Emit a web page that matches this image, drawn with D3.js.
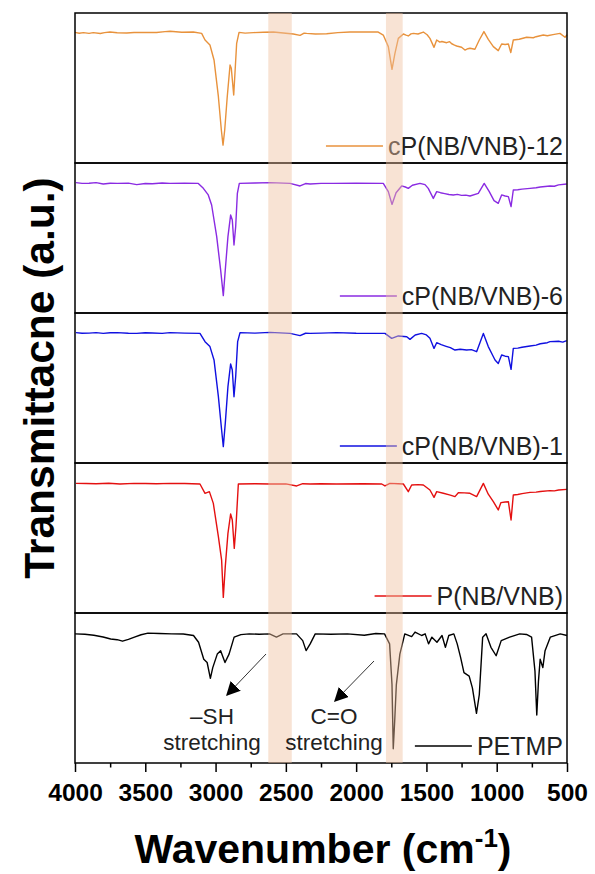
<!DOCTYPE html>
<html>
<head>
<meta charset="utf-8">
<script src="https://cdn.jsdelivr.net/npm/d3@7"></script>
<style>
body { margin: 0; background: #fff; }
svg { display: block; font-family: "Liberation Sans", Arial, sans-serif; }
</style>
</head>
<body>
<svg></svg>
<script>
// spectra, [wavenumber, transmittance]
let cp12 = [[4000,87.1],[3970,86.5],[3940,86.9],[3900,86.4],[3870,86.9],[3820,86.3],[3790,86.9],[3751,87.3],[3700,86.8],
  [3632,86.7],[3580,87.0],[3514,87.1],[3420,87.0],[3360,87.6],[3324,87.8],[3240,87.2],[3158,87.3],[3099,86.4],
  [3075,82.0],[3040,78.7],[3011,68.7],[2980,44.2],[2959,22.0],[2947,11.9],[2935,22.0],[2917,44.2],[2897,65.3],
  [2888,63.1],[2871,45.3],[2862,60.0],[2850,79.8],[2833,87.1],[2790,86.6],[2731,86.9],[2660,87.2],[2589,87.3],
  [2447,86.0],[2399,85.1],[2370,86.6],[2352,86.4],[2290,86.0],[2210,86.2],[2130,86.9],[2044,87.3],[1843,87.3],
  [1807,85.3],[1771,77.6],[1745,62.4],[1724,73.1],[1700,83.1],[1664,86.0],[1645,85.2],[1629,84.7],[1610,86.1],
  [1593,86.4],[1560,86.0],[1522,87.3],[1495,85.5],[1475,83.1],[1446,77.1],[1427,82.0],[1405,80.6],[1390,81.0],
  [1356,80.2],[1335,80.9],[1320,79.5],[1300,78.6],[1285,78.0],[1250,77.2],[1226,75.3],[1205,76.2],[1190,76.5],
  [1155,75.8],[1124,82.0],[1091,87.6],[1060,82.4],[1024,77.6],[989,74.9],[965,79.3],[940,79.0],[917,79.3],
  [900,73.6],[882,82.0],[840,82.5],[787,83.8],[740,83.5],[720,84.2],[669,85.3],[640,84.8],[600,85.6],[550,86.4],
  [514,83.8],[500,85.6]]

let cp6 = [[3993,86.9],[3950,86.4],[3900,86.5],[3850,86.9],[3799,86.0],[3750,86.5],[3700,86.4],[3620,86.6],
  [3561,85.6],[3500,86.3],[3450,86.2],[3380,86.7],[3324,86.4],[3220,86.5],[3123,86.4],[3087,83.1],[3052,78.7],
  [3028,72.0],[2992,50.9],[2964,28.7],[2945,11.6],[2931,28.7],[2912,50.9],[2893,65.3],[2881,62.0],[2869,45.3],
  [2857,57.5],[2845,79.8],[2831,86.4],[2720,86.7],[2613,86.9],[2470,86.4],[2399,84.7],[2360,86.3],[2328,86.0],
  [2250,86.4],[2162,86.4],[2000,86.6],[1807,86.4],[1771,80.9],[1745,72.4],[1716,80.2],[1676,84.7],[1650,84.0],
  [1629,83.1],[1600,85.2],[1546,86.4],[1510,85.6],[1487,83.1],[1451,76.4],[1427,80.9],[1400,80.2],[1370,79.6],
  [1340,79.0],[1309,78.7],[1280,79.1],[1250,78.4],[1220,78.6],[1190,78.0],[1131,79.8],[1089,86.4],[1053,80.9],
  [1019,74.9],[989,73.1],[965,78.7],[940,78.0],[917,77.6],[898,70.9],[882,82.0],[850,82.2],[820,82.6],[763,83.1],
  [720,83.5],[690,84.0],[621,84.7],[590,84.5],[560,85.4],[502,86.0]]

let cp1 = [[3993,86.9],[3950,86.5],[3900,86.6],[3850,86.9],[3799,86.4],[3750,86.8],[3700,86.9],[3620,86.5],
  [3561,86.4],[3500,86.8],[3450,86.7],[3380,86.4],[3324,86.9],[3220,86.6],[3111,86.4],[3075,80.9],[3040,77.6],
  [3011,68.7],[2980,44.2],[2957,22.0],[2945,10.9],[2931,26.4],[2912,50.9],[2893,66.0],[2881,62.0],[2869,44.2],
  [2857,57.5],[2843,80.9],[2826,86.9],[2720,86.6],[2613,87.1],[2470,86.4],[2399,84.9],[2360,86.5],[2328,86.4],
  [2250,86.6],[2139,86.9],[2000,86.5],[1795,86.4],[1747,83.1],[1700,84.7],[1640,84.2],[1617,82.4],[1580,85.3],
  [1534,86.4],[1500,85.4],[1475,83.1],[1446,76.4],[1427,80.2],[1395,78.9],[1360,77.8],[1330,76.9],[1297,75.3],
  [1260,75.8],[1214,75.3],[1180,75.6],[1143,74.2],[1095,86.4],[1060,77.6],[1030,72.0],[1012,68.7],[989,66.4],
  [965,72.0],[940,71.2],[917,70.9],[898,62.4],[882,76.4],[850,76.6],[820,77.2],[763,78.0],[720,78.6],[690,79.5],
  [640,80.2],[621,80.9],[560,81.2],[530,80.6],[502,81.6]]

let pnb = [[3993,86.4],[3920,86.3],[3850,86.2],[3760,86.5],[3680,86.0],[3580,86.4],[3500,86.3],[3420,86.2],
  [3324,86.4],[3220,86.3],[3111,86.0],[3075,79.8],[3044,80.9],[3016,73.1],[2980,50.9],[2957,35.3],[2945,10.4],
  [2931,30.9],[2912,53.1],[2893,66.0],[2881,62.0],[2867,43.1],[2855,57.5],[2838,86.0],[2720,86.2],[2613,86.0],
  [2500,86.1],[2423,84.7],[2380,86.2],[2328,86.0],[2250,86.2],[2139,86.0],[1950,86.2],[1818,86.0],[1795,84.7],
  [1760,86.4],[1700,86.2],[1664,86.0],[1629,80.9],[1605,85.3],[1560,85.6],[1522,85.3],[1475,82.0],[1446,77.1],
  [1427,80.9],[1380,79.8],[1330,78.6],[1297,77.6],[1273,80.2],[1230,80.1],[1190,79.8],[1143,77.6],[1095,86.4],
  [1060,79.2],[1024,74.2],[989,68.7],[970,73.6],[940,74.0],[917,74.2],[898,62.0],[882,78.7],[850,79.0],
  [820,79.6],[763,80.4],[720,80.6],[690,81.0],[621,81.6],[590,81.4],[560,82.0],[502,82.4]]

let petmp = [[4000,86.1],[3930,85.8],[3866,85.2],[3800,84.0],[3746,82.7],[3700,82.2],[3662,81.2],[3620,82.4],
  [3577,83.9],[3530,85.5],[3481,86.6],[3400,86.3],[3313,86.1],[3230,86.0],[3157,85.0],[3121,80.5],[3084,69.2],
  [3060,67.0],[3037,56.4],[3020,63.6],[2988,72.6],[2964,74.9],[2933,67.0],[2904,72.6],[2868,83.9],[2820,85.6],
  [2760,86.1],[2690,85.8],[2616,86.1],[2567,83.9],[2520,86.1],[2424,86.1],[2380,81.6],[2356,74.9],[2327,79.4],
  [2291,86.1],[2180,85.8],[2062,86.1],[1942,85.2],[1860,86.3],[1798,86.1],[1762,79.4],[1745,52.3],[1736,9.5],
  [1726,27.5],[1714,52.3],[1689,72.6],[1654,86.1],[1605,84.3],[1581,87.3],[1534,85.0],[1509,86.1],[1485,79.4],
  [1461,83.9],[1425,80.5],[1389,85.0],[1365,77.1],[1341,85.0],[1305,86.1],[1281,79.4],[1257,70.4],[1233,60.2],
  [1196,57.9],[1173,50.1],[1144,33.1],[1124,45.5],[1100,83.9],[1076,86.1],[1041,77.1],[1004,71.5],[968,81.6],
  [908,83.9],[836,86.1],[788,85.7],[752,83.9],[728,61.3],[715,32.0],[703,54.6],[691,69.2],[672,63.6],[656,74.9],
  [619,83.9],[548,86.1],[500,85.0]]

let seriesData = [cp12, cp6, cp1, pnb, petmp]
let seriesNames = ["cP(NB/VNB)-12", "cP(NB/VNB)-6", "cP(NB/VNB)-1", "P(NB/VNB)", "PETMP"]
let seriesColors = ["#e8923c", "#8a2be2", "#1010e0", "#e41010", "#000000"]

let bands = [[2625, 2458], [1788, 1669]]
let xTicks = [4000, 3500, 3000, 2500, 2000, 1500, 1000, 500]
let xMinorTicks = [3750, 3250, 2750, 2250, 1750, 1250, 750]

let width = 595
let height = 874
let plotLeft = 75
let plotRight = 567
let plotTop = 13
let panelH = 150

let svg = d3.select("svg").attr("width", width).attr("height", height)

let xScale = d3.scaleLinear().domain([4000, 500]).range([plotLeft, plotRight])

// panels, one spectrum each
seriesData.forEach((d, i) => {
  let y0 = plotTop + i * panelH
  let yScale = d3.scaleLinear().domain([0, 100]).range([y0 + panelH, y0])
  let line = d3.line().x(p => xScale(p[0])).y(p => yScale(p[1]))

  svg.append("path")
     .datum(d)
     .attr("d", line)
     .attr("fill", "none")
     .attr("stroke", seriesColors[i])
     .attr("stroke-width", 1.4)
     .attr("stroke-linejoin", "round")

  // legend, right aligned
  let ly = y0 + panelH - 17
  let t = svg.append("text")
     .attr("x", 563)
     .attr("y", ly + 9)
     .attr("text-anchor", "end")
     .attr("font-size", 25)
     .attr("fill", "#222")
     .text(seriesNames[i])
  let tw = t.node().getComputedTextLength()
  svg.append("line")
     .attr("x1", 563 - tw - 62).attr("x2", 563 - tw - 5)
     .attr("y1", ly).attr("y2", ly)
     .attr("stroke", seriesColors[i])
     .attr("stroke-width", 1.4)
})

// frames
seriesData.forEach((d, i) => {
  svg.append("rect")
     .attr("x", plotLeft).attr("y", plotTop + i * panelH)
     .attr("width", plotRight - plotLeft).attr("height", panelH)
     .attr("fill", "none")
     .attr("stroke", "#000")
     .attr("stroke-width", 1.5)
})

// highlighted regions
svg.selectAll(".band")
   .data(bands)
   .enter()
   .append("rect")
   .attr("class", "band")
   .attr("x", d => xScale(d[0]))
   .attr("width", d => xScale(d[1]) - xScale(d[0]))
   .attr("y", plotTop)
   .attr("height", panelH * 5)
   .attr("fill", "#f0c0a0")
   .attr("opacity", 0.45)

// x axis
let plotBottom = plotTop + panelH * 5
let xAxis = d3.axisBottom(xScale).tickValues(xTicks).tickSize(9).tickFormat(d3.format("d"))
let gx = svg.append("g")
   .attr("transform", "translate(0," + plotBottom + ")")
   .call(xAxis)
gx.select(".domain").remove()
gx.selectAll("line").attr("stroke", "#000").attr("stroke-width", 1.5)
gx.selectAll("text")
  .attr("font-family", "Liberation Sans, Arial, sans-serif")
  .attr("font-size", 24.5)
  .attr("font-weight", "bold")
  .attr("fill", "#000")
  .attr("dy", null)
  .attr("y", 38)

let gm = svg.append("g")
   .attr("transform", "translate(0," + plotBottom + ")")
   .call(d3.axisBottom(xScale).tickValues(xMinorTicks).tickSize(4.5).tickFormat(""))
gm.select(".domain").remove()
gm.selectAll("line").attr("stroke", "#000").attr("stroke-width", 1.5)

// axis titles
let xt = svg.append("text")
   .attr("x", 323).attr("y", 863)
   .attr("text-anchor", "middle")
   .attr("font-size", 41)
   .attr("font-weight", "bold")
xt.append("tspan").text("Wavenumber (cm")
xt.append("tspan").attr("font-size", 26).attr("dy", -16).text("-1")
xt.append("tspan").attr("dy", 16).text(")")

svg.append("text")
   .attr("transform", "translate(54,378) rotate(-90)")
   .attr("text-anchor", "middle")
   .attr("font-size", 42.5)
   .attr("font-weight", "bold")
   .text("Transmittacne (a.u.)")

// annotations
let arrows = [
  {from: [266, 654], to: [227, 695], label: ["\u2013SH", "stretching"], cx: 212},
  {from: [374, 661], to: [335, 701], label: ["C=O", "stretching"], cx: 334}
]

svg.append("defs").append("marker")
   .attr("id", "head")
   .attr("viewBox", "0 0 10 10")
   .attr("refX", 9).attr("refY", 5)
   .attr("markerWidth", 14).attr("markerHeight", 14)
   .attr("markerUnits", "userSpaceOnUse")
   .attr("orient", "auto")
   .append("path")
   .attr("d", "M0,0 L10,5 L0,10 Z")
   .attr("fill", "#000")

arrows.forEach(a => {
  svg.append("line")
     .attr("x1", a.from[0]).attr("y1", a.from[1])
     .attr("x2", a.to[0]).attr("y2", a.to[1])
     .attr("stroke", "#333")
     .attr("stroke-width", 1)
     .attr("marker-end", "url(#head)")
  a.label.forEach((s, k) => {
    svg.append("text")
       .attr("x", a.cx).attr("y", 724 + k * 26)
       .attr("text-anchor", "middle")
       .attr("font-size", 22.5)
       .attr("fill", "#222")
       .text(s)
  })
})
</script>
</body>
</html>
